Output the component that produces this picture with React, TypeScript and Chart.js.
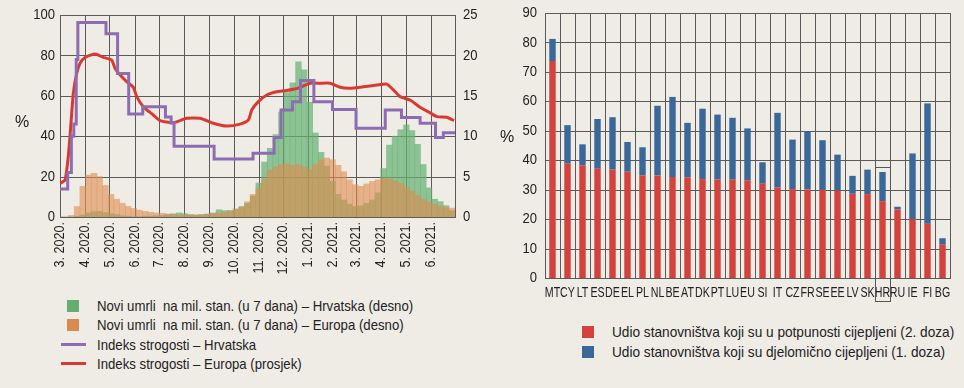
import React, { useEffect, useRef } from 'react';
import { Chart, registerables } from 'chart.js';
Chart.register(...registerables);

const FONT = '"Liberation Sans", Arial, sans-serif';
const BG = '#efece6';
const TXT = '#222222';
const GRID = '#5a5a5a';

// ---------- Left chart data ----------
// x = days since 1 March 2020
const monthDays = [0, 31, 61, 92, 122, 153, 184, 214, 245, 275, 306, 337, 365, 396, 426, 457];
const monthLabels = ['3. 2020.', '4. 2020.', '5. 2020.', '6. 2020.', '7. 2020.', '8. 2020.', '9. 2020.', '10. 2020.', '11. 2020.', '12. 2020.', '1. 2021.', '2. 2021.', '3. 2021.', '4. 2021.', '5. 2021.', '6. 2021.'];
const X_MAX = 487;

// weekly samples (every 7 days from day 0)
const deathsEurope = [0, 0, 0.2, 1.3, 3.8, 5.2, 5.4, 5.0, 3.9, 2.8, 2.2, 1.7, 1.3, 1.05, 0.85, 0.7, 0.6, 0.5, 0.45, 0.37, 0.3, 0.25, 0.25, 0.25, 0.25, 0.28, 0.35, 0.42, 0.5, 0.6, 0.75, 0.9, 1.2, 1.9, 2.8, 3.6, 4.7, 5.8, 6.2, 6.5, 6.6, 6.4, 6.5, 6.2, 5.9, 6.5, 7.1, 7.3, 7.1, 6.4, 5.6, 4.6, 4.0, 3.8, 4.1, 4.4, 4.6, 4.8, 4.7, 4.5, 4.2, 3.7, 3.2, 2.7, 2.2, 1.8, 1.6, 1.36, 1.2, 1.1];
const deathsCroatia = [0, 0, 0, 0.1, 0.25, 0.5, 0.65, 0.7, 0.55, 0.4, 0.3, 0.15, 0.1, 0.05, 0.05, 0.1, 0.1, 0.15, 0.2, 0.3, 0.4, 0.5, 0.4, 0.3, 0.25, 0.3, 0.35, 0.5, 0.9, 0.8, 0.8, 1.0, 1.3, 1.7, 2.6, 4.2, 6.8, 8.5, 10.2, 13.0, 15.4, 16.6, 19.2, 18.2, 14.2, 10.4, 8.0, 6.3, 4.4, 2.8, 2.1, 1.6, 1.3, 1.4, 1.7, 2.1, 3.0, 6.0, 8.9, 10.0, 10.8, 11.4, 10.7, 9.0, 6.5, 3.6, 2.2, 1.9, 1.4, 0.8];

// Stringency index – Croatia (step changes)
const croStringDays = [0, 9.5, 14, 17, 20, 22, 56.7, 71, 84.7, 102, 130, 137, 140.6, 190, 238, 264, 272.5, 286.7, 296.5, 313, 336, 365, 401, 421, 444, 463, 472.6, 487];
const croStringency = [13.9, 22, 40, 46, 78, 96.3, 90.7, 71, 51, 54.6, 49.5, 46.5, 35, 28.7, 31.5, 39.4, 53, 57, 67.6, 57.1, 53.2, 43.9, 53, 49.3, 46.4, 39.3, 41.7, 41.7];

// Stringency index – Europe (average)
const euStringDays = [0, 6.2, 10.2, 13.2, 16.4, 20.6, 24.7, 30.8, 43.2, 53.4, 63.7, 67.8, 73.1, 82.2, 90.4, 94.6, 102.7, 115, 123.3, 139.7, 156.2, 172.6, 189, 205.5, 222, 232.2, 236.4, 244.5, 254.9, 267.2, 277.4, 287.7, 296, 308.3, 320.6, 333, 345.3, 357.6, 374, 390.5, 402.8, 411, 419.2, 431.6, 443.9, 456.2, 464.5, 476.8, 485.8];
const euStringency = [16.7, 18.3, 29.9, 44.7, 61.2, 71.1, 76.1, 79, 80.7, 79, 77.7, 73.6, 70.8, 67, 64.2, 59.6, 54.6, 50.5, 47.7, 46.7, 48.9, 48.9, 46.4, 45, 46, 48, 53, 57.1, 60.4, 62, 62.5, 63.2, 64.2, 66.2, 66.2, 66.2, 64.2, 63.7, 64.5, 65.3, 65.8, 62.9, 59.6, 57.9, 54.3, 51.6, 49.7, 49.4, 47.7];

// ---------- Right chart data ----------
const countries = ['MT', 'CY', 'LT', 'ES', 'DE', 'EL', 'PL', 'NL', 'BE', 'AT', 'DK', 'PT', 'LU', 'EU', 'SI', 'IT', 'CZ', 'FR', 'SE', 'EE', 'LV', 'SK', 'HR', 'RU', 'IE', 'FI', 'BG'];
const fullyVaccinated = [73.7, 38.8, 38.3, 37.1, 36.8, 36.1, 34.8, 34.8, 34.3, 34.2, 33.6, 33.5, 33.4, 33.2, 32.0, 30.7, 30.2, 30.1, 29.9, 29.7, 28.6, 28.5, 26.1, 23.3, 20.0, 18.4, 11.3];
const partlyVaccinated = [7.5, 13.1, 7.1, 16.9, 17.8, 10.1, 9.6, 23.7, 27.2, 18.5, 23.9, 22.0, 21.0, 17.6, 7.3, 25.4, 16.8, 19.6, 16.9, 12.2, 6.1, 8.3, 9.9, 0.9, 22.3, 40.9, 2.2];

const leftLegend = [
  { label: 'Novi umrli  na mil. stan. (u 7 dana) – Hrvatska (desno)', color: '#67ad72', kind: 'box' },
  { label: 'Novi umrli  na mil. stan. (u 7 dana) – Europa (desno)', color: '#d98b4f', kind: 'box' },
  { label: 'Indeks strogosti – Hrvatska', color: '#8c6db3', kind: 'line' },
  { label: 'Indeks strogosti – Europa (prosjek)', color: '#d83a33', kind: 'line' },
];
const rightLegend = [
  { label: 'Udio stanovništva koji su u potpunosti cijepljeni (2. doza)', color: '#d4423e' },
  { label: 'Udio stanovništva koji su djelomično cijepljeni (1. doza)', color: '#3a6899' },
];

// grid lines as 1px filled rectangles
function hRule(ctx: CanvasRenderingContext2D, x1: number, x2: number, y: number) {
  ctx.fillRect(Math.round(x1), Math.round(y), Math.round(x2) - Math.round(x1) + 1, 1);
}
function vRule(ctx: CanvasRenderingContext2D, x: number, y1: number, y2: number) {
  ctx.fillRect(Math.round(x), Math.round(y1), 1, Math.round(y2) - Math.round(y1) + 1);
}

function condensedText(ctx: CanvasRenderingContext2D, text: string, x: number, y: number, align: CanvasTextAlign, baseline: CanvasTextBaseline, size: number, sx: number, rotate = false) {
  ctx.save();
  ctx.translate(x, y);
  if (rotate) ctx.rotate(-Math.PI / 2);
  ctx.scale(sx, 1);
  ctx.font = `${size}px ${FONT}`;
  ctx.fillStyle = TXT;
  ctx.textAlign = align;
  ctx.textBaseline = baseline;
  ctx.fillText(text, 0, 0);
  ctx.restore();
}

const leftDecor = {
  id: 'leftDecor',
  beforeDatasetsDraw(chart: any) {
    const { ctx, chartArea: a, scales } = chart;
    ctx.save();
    ctx.fillStyle = GRID;
    scales.y.ticks.forEach((t: any) => hRule(ctx, a.left, a.right, scales.y.getPixelForValue(t.value)));
    scales.x.ticks.forEach((t: any) => vRule(ctx, scales.x.getPixelForValue(t.value), a.top, a.bottom));
    vRule(ctx, scales.x.getPixelForValue(X_MAX), a.top, a.bottom);
    ctx.restore();
  },
  afterDraw(chart: any) {
    const { ctx, chartArea: a, scales } = chart;
    scales.y.ticks.forEach((t: any) => condensedText(ctx, String(t.value), a.left - 5, scales.y.getPixelForValue(t.value), 'right', 'middle', 15, 0.87));
    scales.y1.ticks.forEach((t: any) => condensedText(ctx, String(t.value), a.right + 8, scales.y1.getPixelForValue(t.value), 'left', 'middle', 15, 0.87));
    scales.x.ticks.forEach((t: any, i: number) => condensedText(ctx, monthLabels[i], scales.x.getPixelForValue(t.value), a.bottom + 5, 'right', 'middle', 15, 0.84, true));
  },
};

const rightDecor = {
  id: 'rightDecor',
  beforeDatasetsDraw(chart: any) {
    const { ctx, chartArea: a, scales } = chart;
    ctx.save();
    ctx.fillStyle = GRID;
    scales.y.ticks.forEach((t: any) => hRule(ctx, a.left, a.right, scales.y.getPixelForValue(t.value)));
    const half = (scales.x.getPixelForValue(1) - scales.x.getPixelForValue(0)) / 2;
    for (let i = 0; i <= countries.length; i++) {
      vRule(ctx, scales.x.getPixelForValue(i) - half, a.top, a.bottom);
    }
    ctx.restore();
  },
  afterDraw(chart: any) {
    const { ctx, chartArea: a, scales } = chart;
    scales.y.ticks.forEach((t: any) => condensedText(ctx, String(t.value), a.left - 8, scales.y.getPixelForValue(t.value), 'right', 'middle', 15, 0.87));
    countries.forEach((c, i) => condensedText(ctx, c, scales.x.getPixelForValue(i), a.bottom + 8, 'center', 'top', 14, 0.76));
    // highlight box around HR
    const idx = countries.indexOf('HR');
    const half = (scales.x.getPixelForValue(1) - scales.x.getPixelForValue(0)) / 2;
    const cx = scales.x.getPixelForValue(idx);
    const top = scales.y.getPixelForValue(fullyVaccinated[idx] + partlyVaccinated[idx]) - 5;
    const bottom = a.bottom + 23;
    ctx.save();
    ctx.fillStyle = '#555555';
    hRule(ctx, cx - half, cx + half, top);
    hRule(ctx, cx - half, cx + half, bottom);
    vRule(ctx, cx - half, top, bottom);
    vRule(ctx, cx + half, top, bottom);
    ctx.restore();
  },
};

export default function App() {
  const leftRef = useRef<HTMLCanvasElement>(null);
  const rightRef = useRef<HTMLCanvasElement>(null);

  useEffect(() => {
    const weekly = (arr: number[]) => arr.map((v, i) => ({ x: i * 7, y: v }));
    const left = new Chart(leftRef.current!, {
      type: 'line',
      data: {
        datasets: [
          {
            type: 'line',
            label: 'Indeks strogosti – Hrvatska',
            data: croStringDays.map((d, i) => ({ x: d, y: croStringency[i] })),
            stepped: 'before',
            borderColor: '#8c6db3',
            borderWidth: 3,
            pointRadius: 0,
            yAxisID: 'y',
            order: 0,
          } as any,
          {
            type: 'line',
            label: 'Indeks strogosti – Europa (prosjek)',
            data: euStringDays.map((d, i) => ({ x: d, y: euStringency[i] })),
            borderColor: '#d83a33',
            borderWidth: 3,
            pointRadius: 0,
            tension: 0.2,
            yAxisID: 'y',
            order: 1,
          },
          {
            type: 'bar',
            label: 'Europa',
            data: weekly(deathsEurope),
            backgroundColor: 'rgba(221,140,78,0.6)',
            grouped: false,
            barPercentage: 1,
            categoryPercentage: 1,
            yAxisID: 'y1',
            order: 2,
          } as any,
          {
            type: 'bar',
            label: 'Hrvatska',
            data: weekly(deathsCroatia),
            backgroundColor: 'rgba(100,176,112,0.7)',
            grouped: false,
            barPercentage: 1,
            categoryPercentage: 1,
            yAxisID: 'y1',
            order: 3,
          } as any,
        ],
      },
      options: {
        responsive: false,
        animation: false,
        layout: { padding: { top: 15, left: 0, right: 0, bottom: 0 } },
        plugins: { legend: { display: false }, tooltip: { enabled: false } },
        scales: {
          x: {
            type: 'linear',
            min: 0,
            max: X_MAX,
            offset: false,
            afterBuildTicks: (s: any) => {
              s.ticks = monthDays.map((v) => ({ value: v }));
            },
            afterFit: (s: any) => {
              s.height = 73;
            },
            ticks: { display: false, autoSkip: false },
            grid: { display: false },
            border: { display: false },
          },
          y: {
            position: 'left',
            min: 0,
            max: 100,
            afterFit: (s: any) => {
              s.width = 60;
            },
            ticks: { display: false, stepSize: 20 },
            grid: { display: false },
            border: { display: false },
          },
          y1: {
            position: 'right',
            min: 0,
            max: 25,
            afterFit: (s: any) => {
              s.width = 25;
            },
            ticks: { display: false, stepSize: 5 },
            grid: { display: false },
            border: { display: false },
          },
        },
      },
      plugins: [leftDecor],
    });

    const right = new Chart(rightRef.current!, {
      type: 'bar',
      data: {
        labels: countries,
        datasets: [
          {
            label: rightLegend[0].label,
            data: fullyVaccinated,
            backgroundColor: '#d4423e',
            barPercentage: 0.43,
            categoryPercentage: 1,
          },
          {
            label: rightLegend[1].label,
            data: partlyVaccinated,
            backgroundColor: '#3a6899',
            barPercentage: 0.43,
            categoryPercentage: 1,
          },
        ],
      },
      options: {
        responsive: false,
        animation: false,
        layout: { padding: { top: 13, left: 0, right: 14, bottom: 0 } },
        plugins: { legend: { display: false }, tooltip: { enabled: false } },
        scales: {
          x: {
            stacked: true,
            afterFit: (s: any) => {
              s.height = 32;
            },
            ticks: { display: false, autoSkip: false },
            grid: { display: false },
            border: { display: false },
          },
          y: {
            stacked: true,
            min: 0,
            max: 90,
            afterFit: (s: any) => {
              s.width = 55;
            },
            ticks: { display: false, stepSize: 10 },
            grid: { display: false },
            border: { display: false },
          },
        },
      },
      plugins: [rightDecor],
    });

    return () => {
      left.destroy();
      right.destroy();
    };
  }, []);

  const textStyle: React.CSSProperties = { fontFamily: FONT, fontSize: 15, color: TXT, whiteSpace: 'pre', display: 'inline-block', transformOrigin: 'left center' };

  return (
    <div style={{ position: 'fixed', left: 0, top: 0, width: 964, height: 388, background: BG, overflow: 'hidden' }}>
      <canvas ref={leftRef} width={480} height={290} style={{ position: 'absolute', left: 0, top: 0 }} />
      <canvas ref={rightRef} width={474} height={310} style={{ position: 'absolute', left: 490, top: 0 }} />
      <span style={{ ...textStyle, position: 'absolute', left: 15, top: 113, fontSize: 16 }}>%</span>
      <span style={{ ...textStyle, position: 'absolute', left: 500, top: 128, fontSize: 16 }}>%</span>
      {leftLegend.map((it, i) => (
        <div key={i} style={{ position: 'absolute', left: 58, top: 296 + i * 19.3, height: 19, display: 'flex', alignItems: 'center' }}>
          <div style={{ width: 30, display: 'flex', justifyContent: 'center' }}>
            {it.kind === 'box' ? (
              <div style={{ width: 12, height: 12, background: it.color }} />
            ) : (
              <div style={{ width: 25, height: 3, background: it.color }} />
            )}
          </div>
          <span style={{ ...textStyle, marginLeft: 9, transform: 'scaleX(0.88)' }}>{it.label}</span>
        </div>
      ))}
      {rightLegend.map((it, i) => (
        <div key={i} style={{ position: 'absolute', left: 576, top: 322 + i * 20, height: 19, display: 'flex', alignItems: 'center' }}>
          <div style={{ width: 12, height: 12, background: it.color, marginLeft: 6 }} />
          <span style={{ ...textStyle, marginLeft: 18, transform: 'scaleX(0.91)' }}>{it.label}</span>
        </div>
      ))}
    </div>
  );
}
